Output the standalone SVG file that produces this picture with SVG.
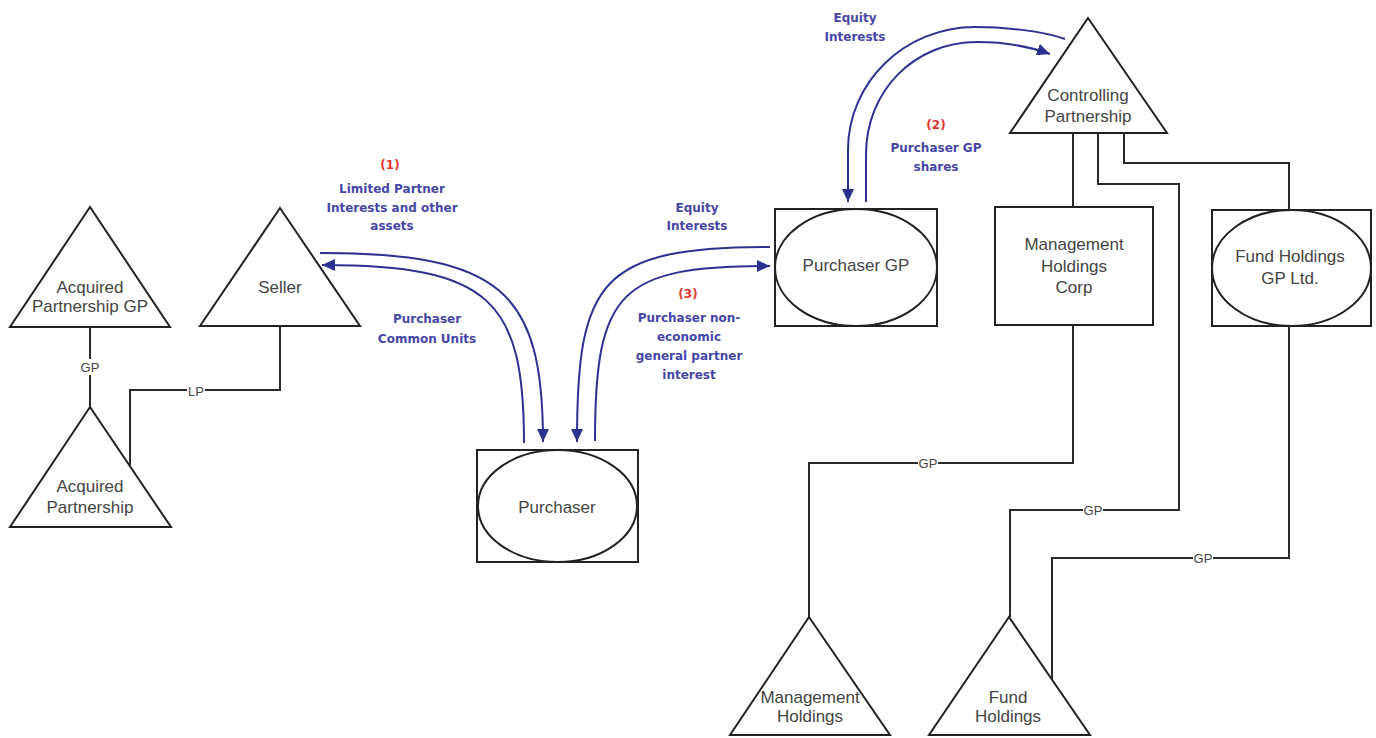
<svg xmlns="http://www.w3.org/2000/svg" width="1376" height="738" viewBox="0 0 1376 738">
<style>
.shape{fill:#fff;stroke:#222;stroke-width:2}
.conn{fill:none;stroke:#2a2a2a;stroke-width:2}
.flow{fill:none;stroke:#2d3190;stroke-width:2}
.node{font-family:"Liberation Sans",Arial,sans-serif;font-size:17px;fill:#444;text-anchor:middle;dominant-baseline:central}
.lbl{font-family:"DejaVu Sans",Verdana,sans-serif;font-size:12px;font-weight:bold;fill:#4646a6;text-anchor:middle;dominant-baseline:central}
.num{font-family:"DejaVu Sans",Verdana,sans-serif;font-size:12px;font-weight:bold;fill:#e0352c;text-anchor:middle;dominant-baseline:central}
.cl{font-family:"Liberation Sans",Arial,sans-serif;font-size:13px;fill:#444;text-anchor:middle;dominant-baseline:central}
.bg{fill:#fff}
</style>
<defs>
<marker id="ah" markerUnits="userSpaceOnUse" markerWidth="14" markerHeight="12" refX="13" refY="6" orient="auto">
<path d="M0,0 L13,6 L0,12 z" fill="#2d3190"/>
</marker>
</defs>
<rect width="1376" height="738" fill="#fff"/>

<g id="connectors">
<path class="conn" d="M90,327 L90,407"/>
<path class="conn" d="M280,327 L280,390 L130,390 L130,465"/>
<path class="conn" d="M1073,133 L1073,207"/>
<path class="conn" d="M1098,133 L1098,184 L1179,184 L1179,510 L1010,510 L1010,617"/>
<path class="conn" d="M1124,133 L1124,163 L1289,163 L1289,210"/>
<path class="conn" d="M1073,326 L1073,463 L809,463 L809,617"/>
<path class="conn" d="M1289,326 L1289,558 L1052,558 L1052,680"/>
<rect class="bg" x="80" y="359" width="20" height="16"/>
<text class="cl" x="90" y="367">GP</text>
<rect class="bg" x="187" y="383" width="18" height="16"/>
<text class="cl" x="196" y="391">LP</text>
<rect class="bg" x="918" y="455" width="20" height="16"/>
<text class="cl" x="928" y="463">GP</text>
<rect class="bg" x="1083" y="502" width="20" height="16"/>
<text class="cl" x="1093" y="510">GP</text>
<rect class="bg" x="1193" y="550" width="20" height="16"/>
<text class="cl" x="1203" y="558">GP</text>

<path class="flow" d="M320,253 C500,253 543,290 543,442" marker-end="url(#ah)"/>
<path class="flow" d="M524,443 C524,300 490,265 322,265" marker-end="url(#ah)"/>
<path class="flow" d="M770,247 C600,247 577,280 577,442" marker-end="url(#ah)"/>
<path class="flow" d="M595,441 C595,290 620,266 770,266" marker-end="url(#ah)"/>
<path class="flow" d="M1065,39 C1040,30 1000,27 975,27 C905,27 848,82 848,150 L848,202" marker-end="url(#ah)"/>
<path class="flow" d="M866,202 L866,155 C866,90 915,42 977,42 C1005,42 1028,46 1050,54" marker-end="url(#ah)"/>
</g>

<g id="flow-labels">
<text class="num" x="390" y="165">(1)</text>
<text class="lbl" x="392" y="189">Limited Partner</text>
<text class="lbl" x="392" y="208">Interests and other</text>
<text class="lbl" x="392" y="226">assets</text>
<text class="lbl" x="427" y="319">Purchaser</text>
<text class="lbl" x="427" y="339">Common Units</text>
<text class="lbl" x="697" y="208">Equity</text>
<text class="lbl" x="697" y="226">Interests</text>
<text class="num" x="688" y="294">(3)</text>
<text class="lbl" x="689" y="318">Purchaser non-</text>
<text class="lbl" x="689" y="337">economic</text>
<text class="lbl" x="689" y="356">general partner</text>
<text class="lbl" x="689" y="375">interest</text>
<text class="lbl" x="855" y="18">Equity</text>
<text class="lbl" x="855" y="37">Interests</text>
<text class="num" x="936" y="125">(2)</text>
<text class="lbl" x="936" y="148">Purchaser GP</text>
<text class="lbl" x="936" y="167">shares</text>
</g>

<g id="acquired-partnership-gp">
<polygon class="shape" points="90,207 170,327 10,327"/>
<text class="node" x="90" y="287">Acquired</text>
<text class="node" x="90" y="306">Partnership GP</text>
</g>
<g id="seller">
<polygon class="shape" points="280,208 360,326 200,326"/>
<text class="node" x="280" y="287">Seller</text>
</g>
<g id="acquired-partnership">
<polygon class="shape" points="90,407 171,527 10,527"/>
<text class="node" x="90" y="486">Acquired</text>
<text class="node" x="90" y="507">Partnership</text>
</g>
<g id="purchaser">
<rect class="shape" x="477" y="450" width="161" height="112"/>
<ellipse class="shape" cx="557.5" cy="506" rx="79.5" ry="56"/>
<text class="node" x="557" y="507">Purchaser</text>
</g>
<g id="purchaser-gp">
<rect class="shape" x="775" y="209" width="162" height="117"/>
<ellipse class="shape" cx="856" cy="267.5" rx="81" ry="58.5"/>
<text class="node" x="856" y="265">Purchaser GP</text>
</g>
<g id="controlling-partnership">
<polygon class="shape" points="1088,18 1167,133 1010,133"/>
<text class="node" x="1088" y="95">Controlling</text>
<text class="node" x="1088" y="116">Partnership</text>
</g>
<g id="management-holdings-corp">
<rect class="shape" x="995" y="207" width="158" height="118"/>
<text class="node" x="1074" y="244">Management</text>
<text class="node" x="1074" y="266">Holdings</text>
<text class="node" x="1074" y="287">Corp</text>
</g>
<g id="fund-holdings-gp-ltd">
<rect class="shape" x="1212" y="210" width="159" height="116"/>
<ellipse class="shape" cx="1291.5" cy="268" rx="79.5" ry="58"/>
<text class="node" x="1290" y="256">Fund Holdings</text>
<text class="node" x="1290" y="278">GP Ltd.</text>
</g>
<g id="management-holdings">
<polygon class="shape" points="809,617 890,735 730,735"/>
<text class="node" x="810" y="697">Management</text>
<text class="node" x="810" y="716">Holdings</text>
</g>
<g id="fund-holdings">
<polygon class="shape" points="1009,617 1090,735 929,735"/>
<text class="node" x="1008" y="697">Fund</text>
<text class="node" x="1008" y="716">Holdings</text>
</g>
</svg>
